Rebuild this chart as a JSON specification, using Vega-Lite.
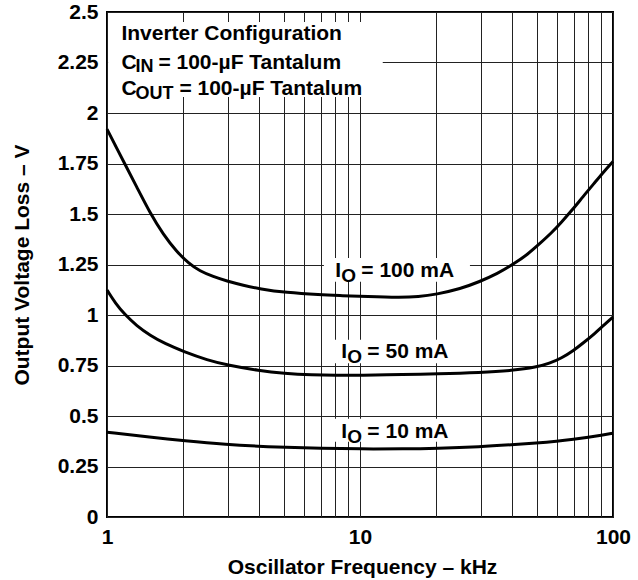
{
  "$schema": "https://vega.github.io/schema/vega-lite/v6.json",
  "width": 506,
  "height": 505,
  "autosize": {"type": "none"},
  "padding": {"left": 107, "top": 12, "right": 25, "bottom": 63},
  "background": "white",
  "config": {
    "font": "Liberation Sans",
    "view": {"stroke": "black", "strokeWidth": 2},
    "axis": {
      "domain": false,
      "ticks": false,
      "grid": true,
      "gridColor": "#222222",
      "gridWidth": 1,
      "gridOpacity": 1,
      "labelFont": "Liberation Sans",
      "labelFontWeight": "bold",
      "labelFontSize": 21,
      "labelColor": "black",
      "titleFont": "Liberation Sans",
      "titleFontWeight": "bold",
      "titleFontSize": 21,
      "titleColor": "black"
    },
    "text": {"font": "Liberation Sans", "fontWeight": "bold", "color": "black", "align": "left", "baseline": "alphabetic"}
  },
  "datasets": {
    "curves": [
      {"series": "100 mA", "f": 1, "v": 1.92},
      {"series": "100 mA", "f": 1.08, "v": 1.838},
      {"series": "100 mA", "f": 1.16, "v": 1.762},
      {"series": "100 mA", "f": 1.31, "v": 1.635},
      {"series": "100 mA", "f": 1.48, "v": 1.505},
      {"series": "100 mA", "f": 1.67, "v": 1.398},
      {"series": "100 mA", "f": 1.885, "v": 1.314},
      {"series": "100 mA", "f": 2.1, "v": 1.256},
      {"series": "100 mA", "f": 2.33, "v": 1.217},
      {"series": "100 mA", "f": 2.63, "v": 1.19},
      {"series": "100 mA", "f": 2.97, "v": 1.168},
      {"series": "100 mA", "f": 3.46, "v": 1.147},
      {"series": "100 mA", "f": 4.02, "v": 1.129},
      {"series": "100 mA", "f": 5.09, "v": 1.111},
      {"series": "100 mA", "f": 6.95, "v": 1.1},
      {"series": "100 mA", "f": 8.5, "v": 1.096},
      {"series": "100 mA", "f": 10.6, "v": 1.091},
      {"series": "100 mA", "f": 14.4, "v": 1.086},
      {"series": "100 mA", "f": 17, "v": 1.09},
      {"series": "100 mA", "f": 20, "v": 1.102},
      {"series": "100 mA", "f": 25, "v": 1.13},
      {"series": "100 mA", "f": 29.7, "v": 1.165},
      {"series": "100 mA", "f": 35, "v": 1.205},
      {"series": "100 mA", "f": 40.2, "v": 1.25},
      {"series": "100 mA", "f": 46, "v": 1.3},
      {"series": "100 mA", "f": 51.5, "v": 1.355},
      {"series": "100 mA", "f": 57, "v": 1.405},
      {"series": "100 mA", "f": 62.6, "v": 1.46},
      {"series": "100 mA", "f": 69, "v": 1.52},
      {"series": "100 mA", "f": 76, "v": 1.585},
      {"series": "100 mA", "f": 84, "v": 1.65},
      {"series": "100 mA", "f": 92, "v": 1.71},
      {"series": "100 mA", "f": 100, "v": 1.76},
      {"series": "50 mA", "f": 1, "v": 1.124},
      {"series": "50 mA", "f": 1.08, "v": 1.058},
      {"series": "50 mA", "f": 1.18, "v": 1.0},
      {"series": "50 mA", "f": 1.31, "v": 0.947},
      {"series": "50 mA", "f": 1.48, "v": 0.899},
      {"series": "50 mA", "f": 1.7, "v": 0.857},
      {"series": "50 mA", "f": 2, "v": 0.82},
      {"series": "50 mA", "f": 2.5, "v": 0.776},
      {"series": "50 mA", "f": 3, "v": 0.752},
      {"series": "50 mA", "f": 4, "v": 0.724},
      {"series": "50 mA", "f": 5, "v": 0.711},
      {"series": "50 mA", "f": 6.5, "v": 0.703},
      {"series": "50 mA", "f": 8, "v": 0.701},
      {"series": "50 mA", "f": 10, "v": 0.702},
      {"series": "50 mA", "f": 15, "v": 0.705},
      {"series": "50 mA", "f": 20, "v": 0.708},
      {"series": "50 mA", "f": 30, "v": 0.715},
      {"series": "50 mA", "f": 40, "v": 0.725},
      {"series": "50 mA", "f": 50, "v": 0.742},
      {"series": "50 mA", "f": 56, "v": 0.76},
      {"series": "50 mA", "f": 62.6, "v": 0.786},
      {"series": "50 mA", "f": 70, "v": 0.825},
      {"series": "50 mA", "f": 76, "v": 0.86},
      {"series": "50 mA", "f": 85, "v": 0.91},
      {"series": "50 mA", "f": 92, "v": 0.95},
      {"series": "50 mA", "f": 100, "v": 0.99},
      {"series": "10 mA", "f": 1, "v": 0.42},
      {"series": "10 mA", "f": 1.5, "v": 0.395},
      {"series": "10 mA", "f": 2, "v": 0.378},
      {"series": "10 mA", "f": 3, "v": 0.358},
      {"series": "10 mA", "f": 4, "v": 0.35},
      {"series": "10 mA", "f": 5, "v": 0.345},
      {"series": "10 mA", "f": 7, "v": 0.34},
      {"series": "10 mA", "f": 10, "v": 0.337},
      {"series": "10 mA", "f": 15, "v": 0.337},
      {"series": "10 mA", "f": 20, "v": 0.34},
      {"series": "10 mA", "f": 30, "v": 0.348},
      {"series": "10 mA", "f": 40, "v": 0.358},
      {"series": "10 mA", "f": 50, "v": 0.366},
      {"series": "10 mA", "f": 60, "v": 0.375},
      {"series": "10 mA", "f": 70, "v": 0.385},
      {"series": "10 mA", "f": 80, "v": 0.395},
      {"series": "10 mA", "f": 90, "v": 0.405},
      {"series": "10 mA", "f": 100, "v": 0.415}
    ],
    "boxes": [
      {"f1": 1.01, "f2": 12.3, "v1": 2.079, "v2": 2.45},
      {"f1": 7.2, "f2": 27.2, "v1": 1.165, "v2": 1.282},
      {"f1": 7.2, "f2": 24.8, "v1": 0.761, "v2": 0.877},
      {"f1": 7.2, "f2": 24.8, "v1": 0.373, "v2": 0.487}
    ],
    "labels": [
      {"f": 7.99, "v": 1.19, "lead": "I", "sub": "O", "rest": "= 100 mA"},
      {"f": 8.44, "v": 0.787, "lead": "I", "sub": "O", "rest": "= 50 mA"},
      {"f": 8.44, "v": 0.391, "lead": "I", "sub": "O", "rest": "= 10 mA"}
    ],
    "notes": [
      {"f": 1.14, "v": 2.359, "lead": "Inverter Configuration", "sub": "", "rest": ""},
      {"f": 1.14, "v": 2.219, "lead": "C", "sub": "IN", "rest": "= 100-µF Tantalum"},
      {"f": 1.14, "v": 2.087, "lead": "C", "sub": "OUT", "rest": "= 100-µF Tantalum"}
    ]
  },
  "layer": [
    {
      "data": {"name": "boxes"},
      "mark": {"type": "rect", "fill": "white", "strokeWidth": 0},
      "encoding": {
        "x": {
          "field": "f1",
          "type": "quantitative",
          "scale": {"type": "log", "domain": [1, 100]},
          "axis": {
            "values": [1, 2, 3, 4, 5, 6, 7, 8, 9, 10, 20, 30, 40, 50, 60, 70, 80, 90, 100],
            "labelExpr": "datum.value == 1 || datum.value == 10 || datum.value == 100 ? format(datum.value, 'd') : ''",
            "labelOverlap": false,
            "labelFlush": false,
            "labelBound": false,
            "labelPadding": 9,
            "title": "Oscillator Frequency – kHz",
            "titleX": 255,
            "titleY": 56,
            "titleAlign": "center",
            "titleBaseline": "alphabetic"
          }
        },
        "x2": {"field": "f2"},
        "y": {
          "field": "v1",
          "type": "quantitative",
          "scale": {"domain": [0, 2.5], "nice": false, "zero": false},
          "axis": {
            "values": [0, 0.25, 0.5, 0.75, 1, 1.25, 1.5, 1.75, 2, 2.25, 2.5],
            "labelExpr": "toString(datum.value)",
            "labelOverlap": false,
            "labelFlush": false,
            "labelPadding": 9,
            "title": "Output Voltage Loss – V",
            "titleX": -85,
            "titleY": 252.5,
            "titleAngle": -90,
            "titleAlign": "center",
            "titleBaseline": "middle"
          }
        },
        "y2": {"field": "v2"}
      }
    },
    {
      "data": {"name": "curves"},
      "mark": {"type": "line", "color": "black", "strokeWidth": 3, "interpolate": "basis"},
      "encoding": {
        "x": {"field": "f", "type": "quantitative"},
        "y": {"field": "v", "type": "quantitative"},
        "detail": {"field": "series"}
      }
    },
    {
      "data": {"name": "labels"},
      "mark": {"type": "text", "fontSize": 21},
      "encoding": {
        "x": {"field": "f", "type": "quantitative"},
        "y": {"field": "v", "type": "quantitative"},
        "text": {"field": "lead"}
      }
    },
    {
      "data": {"name": "labels"},
      "mark": {"type": "text", "fontSize": 19, "dx": 6, "dy": 5},
      "encoding": {
        "x": {"field": "f", "type": "quantitative"},
        "y": {"field": "v", "type": "quantitative"},
        "text": {"field": "sub"}
      }
    },
    {
      "data": {"name": "labels"},
      "mark": {"type": "text", "fontSize": 21, "dx": 26},
      "encoding": {
        "x": {"field": "f", "type": "quantitative"},
        "y": {"field": "v", "type": "quantitative"},
        "text": {"field": "rest"}
      }
    },
    {
      "data": {"name": "notes"},
      "mark": {"type": "text", "fontSize": 21},
      "encoding": {
        "x": {"field": "f", "type": "quantitative"},
        "y": {"field": "v", "type": "quantitative"},
        "text": {"field": "lead"}
      }
    },
    {
      "data": {"name": "notes"},
      "mark": {"type": "text", "fontSize": 18, "dx": 14, "dy": 3.5},
      "encoding": {
        "x": {"field": "f", "type": "quantitative"},
        "y": {"field": "v", "type": "quantitative"},
        "text": {"field": "sub"}
      }
    },
    {
      "data": {"name": "notes"},
      "transform": [{"filter": "datum.sub == 'IN'"}],
      "mark": {"type": "text", "fontSize": 21, "dx": 37},
      "encoding": {
        "x": {"field": "f", "type": "quantitative"},
        "y": {"field": "v", "type": "quantitative"},
        "text": {"field": "rest"}
      }
    },
    {
      "data": {"name": "notes"},
      "transform": [{"filter": "datum.sub == 'OUT'"}],
      "mark": {"type": "text", "fontSize": 21, "dx": 58},
      "encoding": {
        "x": {"field": "f", "type": "quantitative"},
        "y": {"field": "v", "type": "quantitative"},
        "text": {"field": "rest"}
      }
    }
  ]
}
